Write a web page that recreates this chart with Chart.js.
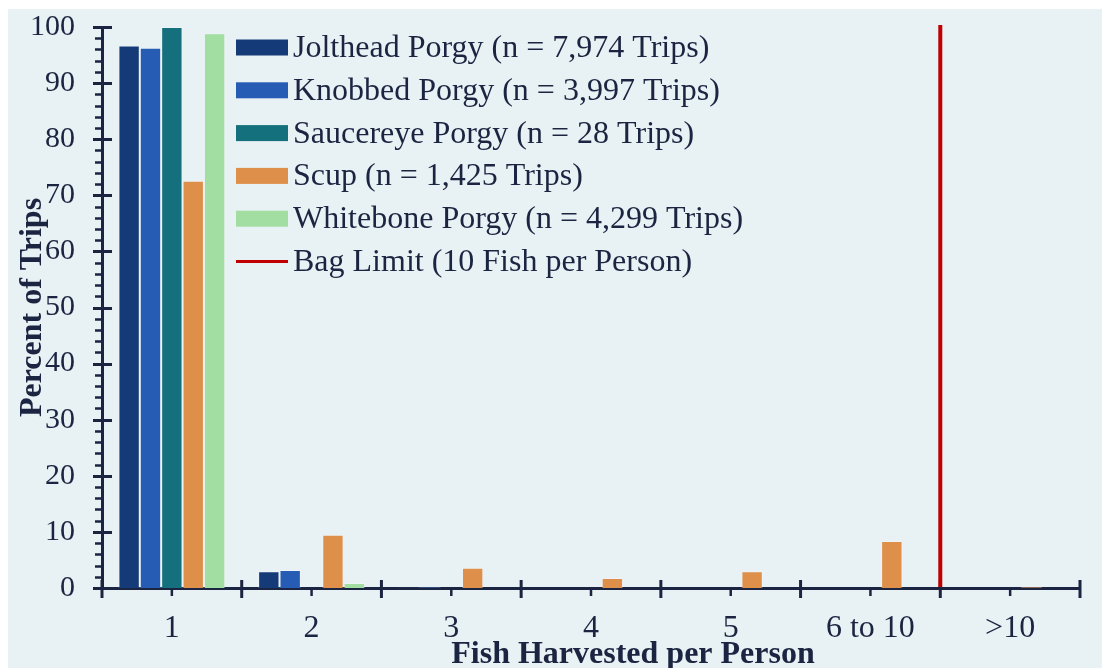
<!DOCTYPE html>
<html>
<head>
<meta charset="utf-8">
<title>Fish Harvested per Person</title>
<script src="https://cdn.jsdelivr.net/npm/chart.js@4/dist/chart.umd.min.js"></script>
<style>
  html, body { margin: 0; padding: 0; background: #ffffff; }
  #wrap { position: absolute; left: 8px; top: 9px; width: 1094px; height: 659px; background: #e8f1f4; }
  canvas { display: block; }
</style>
</head>
<body>
<div id="wrap"><canvas id="chart" width="1094" height="659"></canvas></div>
<script>
// categories and percent of trips per species
const categories = ["1", "2", "3", "4", "5", "6 to 10", ">10"];
const jolthead   = [96.7, 3.0, 0.1, 0, 0, 0, 0];
const knobbed    = [96.3, 3.2, 0.2, 0, 0, 0, 0];
const saucereye  = [100, 0, 0, 0, 0, 0, 0];
const scup       = [72.6, 9.5, 3.6, 1.8, 3.0, 8.4, 0.2];
const whitebone  = [98.9, 0.9, 0, 0, 0, 0, 0];

const seriesNames = [
  "Jolthead Porgy (n = 7,974 Trips)",
  "Knobbed Porgy (n = 3,997 Trips)",
  "Saucereye Porgy (n = 28 Trips)",
  "Scup (n = 1,425 Trips)",
  "Whitebone Porgy (n = 4,299 Trips)"
];
const seriesColors = ["#153a78", "#275cb4", "#14707c", "#de8f4a", "#a2dda2"];

const yTicks = [0, 10, 20, 30, 40, 50, 60, 70, 80, 90, 100];

// bag limit sits between "6 to 10" and ">10"
const bagLimitLabel = "Bag Limit (10 Fish per Person)";
const bagLimitAt = 5.5;

const xTitle = "Fish Harvested per Person";
const yTitle = "Percent of Trips";

const INK = "#1b2440";
const SERIF = "'Liberation Serif', 'Times New Roman', serif";

const values = [jolthead, knobbed, saucereye, scup, whitebone];
const datasets = values.map((v, i) => ({
  label: seriesNames[i],
  data: v,
  backgroundColor: seriesColors[i],
  borderColor: "rgba(255,255,255,0.25)",
  borderWidth: 1,
  barPercentage: 1,
  categoryPercentage: 0.765
}));

// crossing tick marks on both axes + the bag limit line
const axisDecor = {
  id: "axisDecor",
  afterDatasetsDraw(chart){
    const {ctx, chartArea: a, scales: {x, y}} = chart;
    ctx.save();
    ctx.strokeStyle = INK;
    ctx.lineCap = "butt";

    // y: major every 10, minor every 2
    for(let v = 0; v <= 100; v += 2){
      const py = Math.round(y.getPixelForValue(v)) + 0.5;
      ctx.beginPath();
      if(v % 10 === 0){
        ctx.lineWidth = 3;
        ctx.moveTo(a.left - 9, py); ctx.lineTo(a.left + 10, py);
      } else {
        ctx.lineWidth = 2.5;
        ctx.moveTo(a.left - 7, py); ctx.lineTo(a.left, py);
      }
      ctx.stroke();
    }

    // x: major at category edges, minor at centres
    const n = categories.length;
    const half = (x.getPixelForValue(1) - x.getPixelForValue(0)) / 2;
    for(let i = 0; i <= n; i++){
      const px = x.getPixelForValue(i) - half;
      ctx.lineWidth = 3;
      ctx.beginPath();
      ctx.moveTo(px, a.bottom - 8); ctx.lineTo(px, a.bottom + 10);
      ctx.stroke();
    }
    for(let i = 0; i < n; i++){
      const px = x.getPixelForValue(i);
      ctx.lineWidth = 2.5;
      ctx.beginPath();
      ctx.moveTo(px, a.bottom); ctx.lineTo(px, a.bottom + 8);
      ctx.stroke();
    }

    // bag limit
    const bx = (x.getPixelForValue(Math.floor(bagLimitAt)) + x.getPixelForValue(Math.ceil(bagLimitAt))) / 2;
    ctx.strokeStyle = "#c00000";
    ctx.lineWidth = 4;
    ctx.beginPath();
    ctx.moveTo(bx, a.top - 2); ctx.lineTo(bx, a.bottom - 1);
    ctx.stroke();
    ctx.restore();
  }
};

// legend drawn inside the plot area, axis titles drawn by hand
const innerLegend = {
  id: "innerLegend",
  afterDraw(chart){
    const {ctx, chartArea: a} = chart;
    const left = a.left + 134;
    const top = a.top + 20.5;
    const step = 42.8;
    ctx.save();
    ctx.font = "32px " + SERIF;
    ctx.textBaseline = "middle";
    ctx.fillStyle = INK;
    const items = chart.data.datasets.map(d => ({text: d.label, color: d.backgroundColor, line: false}));
    items.push({text: bagLimitLabel, color: "#c00000", line: true});
    items.forEach((it, i) => {
      const cy = top + i * step;
      if(it.line){
        ctx.strokeStyle = it.color;
        ctx.lineWidth = 3;
        ctx.beginPath();
        ctx.moveTo(left, cy); ctx.lineTo(left + 52, cy);
        ctx.stroke();
      } else {
        ctx.fillStyle = it.color;
        ctx.fillRect(left, cy - 8, 52, 16);
      }
      ctx.fillStyle = INK;
      ctx.fillText(it.text, left + 57, cy + 1);
    });

    ctx.fillStyle = INK;
    ctx.font = "bold 32px " + SERIF;
    ctx.textAlign = "center";
    ctx.textBaseline = "alphabetic";
    ctx.fillText(xTitle, (a.left + a.right) / 2 + 42, 654);

    ctx.translate(25, (a.top + a.bottom) / 2);
    ctx.rotate(-Math.PI / 2);
    ctx.textBaseline = "middle";
    ctx.fillText(yTitle, 0, 0);
    ctx.restore();
  }
};

new Chart(document.getElementById("chart"), {
  type: "bar",
  data: { labels: categories, datasets },
  options: {
    responsive: false,
    animation: false,
    events: [],
    layout: { padding: { top: 0, right: 22, left: 0, bottom: 0 } },
    plugins: { legend: { display: false }, tooltip: { enabled: false } },
    scales: {
      x: {
        grid: { display: false, drawTicks: true, tickLength: 21 },
        border: { display: true, color: INK, width: 3 },
        ticks: { color: INK, font: { family: SERIF, size: 32 }, padding: 0, maxRotation: 0 },
        afterFit(s){ s.height = 80; }
      },
      y: {
        min: 0, max: 100,
        afterBuildTicks(s){ s.ticks = yTicks.map(v => ({ value: v })); },
        grid: { display: false, drawTicks: true, tickLength: 27 },
        border: { display: true, color: INK, width: 3 },
        ticks: { color: INK, font: { family: SERIF, size: 30 }, padding: 0 },
        afterFit(s){ s.width = 94; }
      }
    }
  },
  plugins: [axisDecor, innerLegend]
});
</script>
</body>
</html>
